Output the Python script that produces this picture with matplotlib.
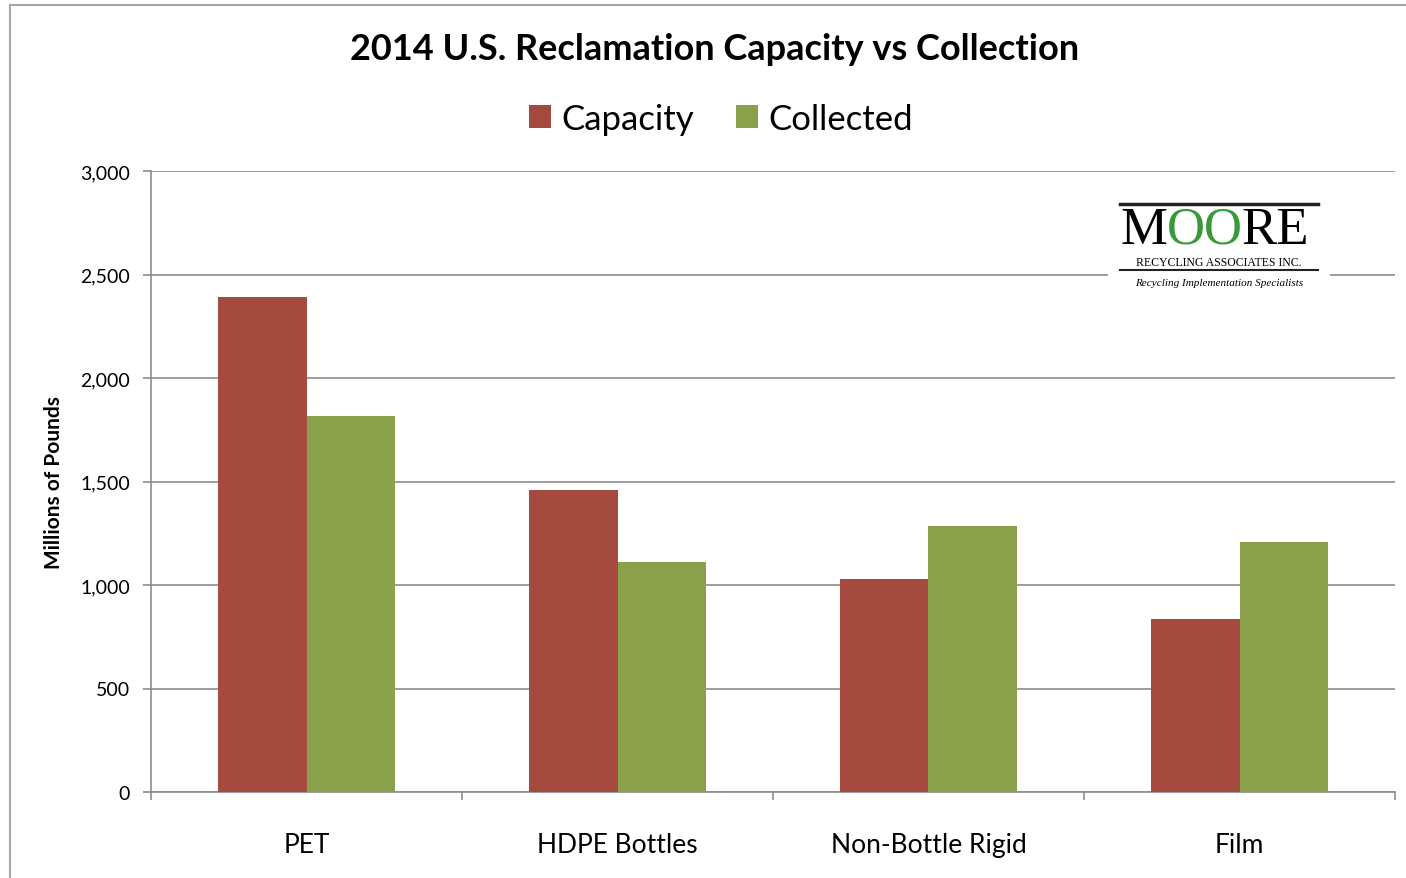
import matplotlib.pyplot as plt
from matplotlib.patches import Rectangle
import numpy as np

CATEGORIES = ["PET", "HDPE Bottles", "Non-Bottle Rigid", "Film"]
CAPACITY = [2390, 1460, 1030, 835]
COLLECTED = [1815, 1110, 1285, 1210]
Y_TICKS = [0, 500, 1000, 1500, 2000, 2500, 3000]

RED = "#a44a3f"
GREEN = "#8aa04b"
GRID = "#8c8c8c"

plt.rcParams['font.family'] = ['Lato', 'DejaVu Sans']

def main():
    fig = plt.figure(figsize=(14.06, 8.79), dpi=100)
    W, H = 1406, 879

    # outer chart frame
    fig.patches.append(Rectangle((10 / W, -0.05), 1.1, 1 - 6 / H + 0.05,
                                 transform=fig.transFigure, fill=False,
                                 edgecolor="#a6a6a6", linewidth=1.5))

    ax = fig.add_axes([151 / W, 1 - 793 / H, (1395 - 151) / W, (793 - 172) / H])
    x = np.arange(len(CATEGORIES))
    w = 0.286
    ax.bar(x - w / 2, CAPACITY, w, color=RED, label="Capacity", zorder=3)
    ax.bar(x + w / 2, COLLECTED, w, color=GREEN, label="Collected", zorder=3)

    ax.set_xlim(-0.5, len(CATEGORIES) - 0.5)
    ax.set_ylim(0, 3000)
    ax.set_yticks(Y_TICKS)
    ax.set_yticklabels([f"{v:,}" for v in Y_TICKS], fontsize=14)
    ax.yaxis.grid(True, color=GRID, linewidth=1.2, zorder=0)
    ax.set_xticks(x)
    ax.set_xticklabels(CATEGORIES, fontsize=19)
    ax.set_xticks(np.arange(len(CATEGORIES) + 1) - 0.5, minor=True)
    ax.tick_params(axis="x", which="major", length=0, pad=29)
    ax.tick_params(axis="x", which="minor", length=6, color=GRID, width=1.2)
    ax.tick_params(axis="y", length=6, color=GRID, width=1.2, pad=9)
    for s in ["top", "right"]:
        ax.spines[s].set_visible(False)
    for s in ["left", "bottom"]:
        ax.spines[s].set_color(GRID)
        ax.spines[s].set_linewidth(1.2)

    ax.set_ylabel("Millions of Pounds", fontsize=15, fontweight="bold", labelpad=12)

    fig.text(714.5 / W, 1 - 50 / H, "2014 U.S. Reclamation Capacity vs Collection",
             ha="center", va="center", fontsize=26, fontweight="bold")
    fig.legend(loc="center", bbox_to_anchor=(721 / W, 1 - 120 / H), ncol=2,
               frameon=False, fontsize=25, handlelength=0.65, handleheight=0.65,
               handletextpad=0.3, columnspacing=1.2)

    # Moore logo
    lx0, lx1 = 1108 / W, 1330 / W
    fig.patches.append(Rectangle((lx0, 1 - 295 / H), lx1 - lx0, 95 / H,
                                 transform=fig.transFigure, facecolor="white",
                                 edgecolor="none", zorder=5))
    for yy, lw in [(205, 2.5), (271, 1.5)]:
        fig.add_artist(plt.Line2D([1120 / W, 1318 / W], [1 - yy / H] * 2,
                                  color="#222222", linewidth=lw, zorder=6))
    renderer = fig.canvas.get_renderer()
    xpos = 1121
    for part, col in [("M", "black"), ("OO", "#3a9a3a"), ("RE", "black")]:
        t = fig.text(xpos / W, 1 - 231 / H, part, fontsize=38, family="Liberation Serif",
                     va="center", ha="left", color=col, zorder=7)
        xpos = t.get_window_extent(renderer).x1 - 1
    fig.text(1219 / W, 1 - 263.5 / H, "RECYCLING ASSOCIATES INC.", fontsize=8.5,
             family="Liberation Serif", va="center", ha="center", zorder=7)
    fig.text(1219 / W, 1 - 284 / H, "Recycling Implementation Specialists", fontsize=8,
             family="Liberation Serif", style="italic", va="center", ha="center", zorder=7)

    fig.savefig("out.png", dpi=100)
    plt.close(fig)

if __name__ == "__main__":
    main()
